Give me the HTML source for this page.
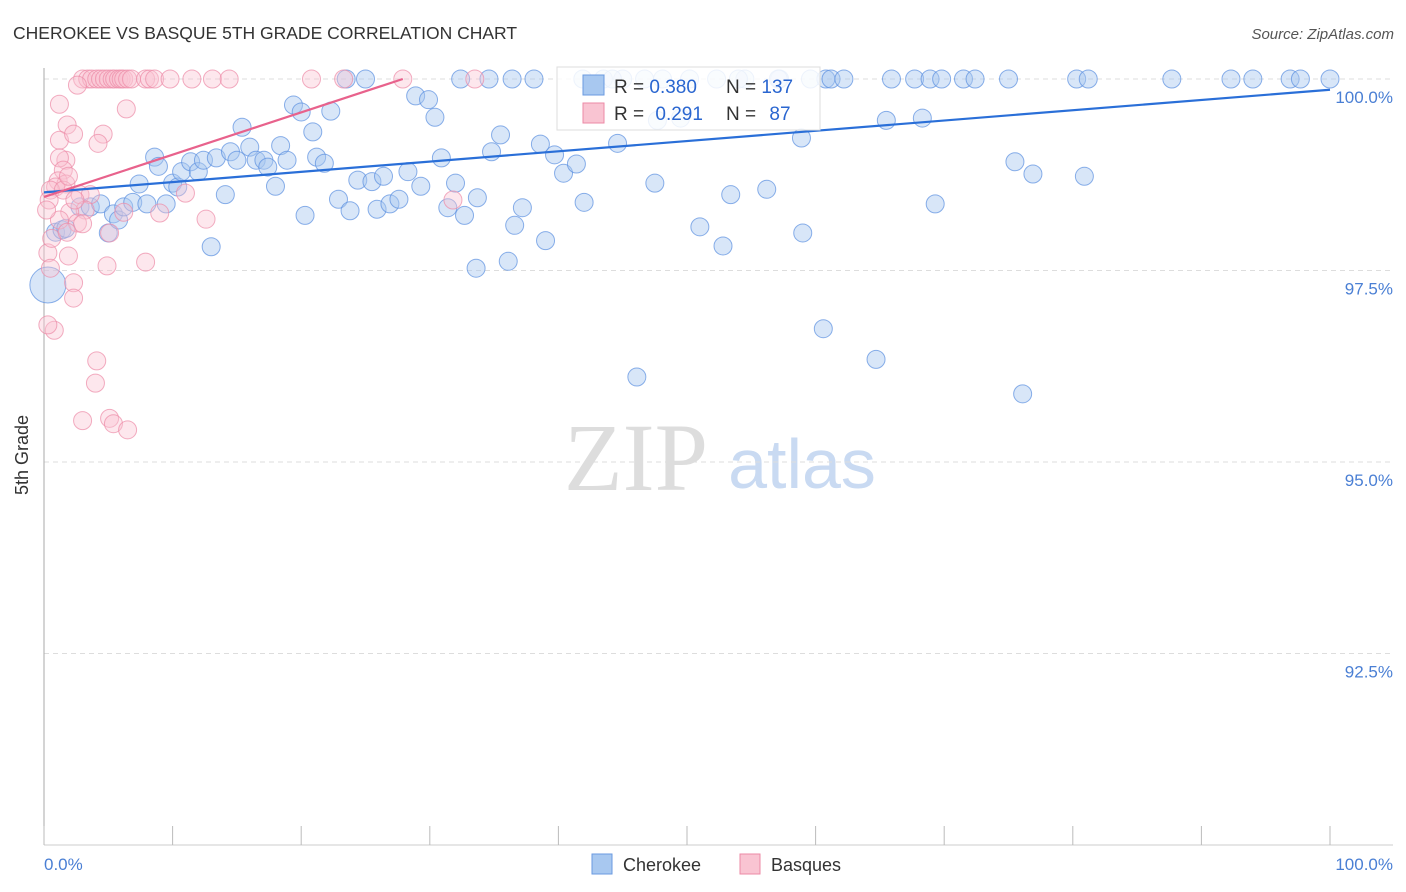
<!DOCTYPE html>
<html><head><meta charset="utf-8">
<style>
body{margin:0;background:#fff;width:1406px;height:892px;overflow:hidden;font-family:"Liberation Sans",sans-serif;}
svg{display:block}
</style></head>
<body>
<svg id="chart" width="1406" height="892">
<text x="13" y="39" font-size="17.5" fill="#333">CHEROKEE VS BASQUE 5TH GRADE CORRELATION CHART</text>
<text x="1394" y="39" font-size="15" fill="#555" font-style="italic" text-anchor="end">Source: ZipAtlas.com</text>
<text x="28" y="455" font-size="18" fill="#333" transform="rotate(-90 28 455)" text-anchor="middle">5th Grade</text>
<g>
<text x="636" y="490" font-size="96" font-family="Liberation Serif,serif" fill="#ddd" text-anchor="middle">ZIP</text>
<text x="802" y="488" font-size="70" fill="#c9daf2" text-anchor="middle">atlas</text>
</g>
<g id="grid"></g><g id="axes"></g><g id="pts"></g><g id="lines"></g>
<g>
<rect x="557" y="67" width="263" height="63" fill="#fff" fill-opacity="0.85" stroke="#ddd"/>
<rect x="583" y="75" width="21" height="20" fill="#a8c8f0" stroke="#6a9ae0"/>
<text x="614" y="93" font-size="19" fill="#333">R = <tspan fill="#2a66d0">0.380</tspan></text>
<text x="726" y="93" font-size="19" fill="#333">N = <tspan fill="#2a66d0">137</tspan></text>
<rect x="583" y="103" width="21" height="20" fill="#f9c4d2" stroke="#ec8aa6"/>
<text x="614" y="120" font-size="19" fill="#333">R = <tspan fill="#2a66d0" dx="6">0.291</tspan></text>
<text x="726" y="120" font-size="19" fill="#333">N = <tspan fill="#2a66d0" dx="8">87</tspan></text>
</g>
<g>
<rect x="592" y="854" width="20" height="20" fill="#a8c8f0" stroke="#6a9ae0"/>
<text x="623" y="871" font-size="18" fill="#333">Cherokee</text>
<rect x="740" y="854" width="20" height="20" fill="#f9c4d2" stroke="#ec8aa6"/>
<text x="771" y="871" font-size="18" fill="#333">Basques</text>
</g>
</svg>
<script>
const yTicks=[100,97.5,95,92.5];
const yTickLabels=["100.0%","97.5%","95.0%","92.5%"];
const xTickVals=[0,10,20,30,40,50,60,70,80,90,100];
const xEndLabels=["0.0%","100.0%"];
const blueX=[0.3,0.9,1.4,1.7,2.8,3.6,4.4,5.0,5.4,5.8,6.2,6.9,7.4,8.0,8.6,8.9,9.5,10.0,10.4,10.7,11.4,12.0,12.4,13.0,13.4,14.1,14.5,15.0,15.4,16.0,16.5,17.1,17.4,18.0,18.4,18.9,19.4,20.0,20.3,20.9,21.2,21.8,22.3,22.9,23.5,23.8,24.4,25.0,25.5,25.9,26.4,26.9,27.6,28.3,28.9,29.3,29.9,30.4,30.9,31.4,32.0,32.4,32.7,33.6,33.7,34.6,34.8,35.5,36.1,36.4,36.6,37.2,38.1,38.6,39.0,39.7,40.4,41.4,42.0,43.5,44.6,45.0,46.1,46.7,47.5,47.7,49.5,50.2,51.0,52.8,53.4,54.5,56.2,57.2,58.9,59.0,59.6,60.6,60.8,61.2,62.2,64.7,65.5,65.9,67.7,68.3,68.9,69.3,69.8,71.5,72.4,75.0,75.5,76.1,76.9,80.3,80.9,81.2,87.7,92.3,94.0,96.9,97.7,100,41.9,44.2,48.1,52.3,54.0,57.1];
const blueY=[97.31,98.00,98.03,98.05,98.33,98.33,98.37,97.99,98.24,98.16,98.33,98.39,98.63,98.37,98.98,98.86,98.37,98.64,98.59,98.79,98.92,98.79,98.94,97.81,98.97,98.49,99.05,98.94,99.37,99.11,98.94,98.94,98.85,98.60,99.13,98.94,99.66,99.57,98.22,99.31,98.98,98.90,99.58,98.43,100,98.28,98.68,100,98.66,98.30,98.73,98.37,98.43,98.79,99.78,98.60,99.73,99.50,98.97,98.32,98.64,100,98.22,97.53,98.45,100,99.05,99.27,97.62,100,98.09,98.32,100,99.15,97.89,99.01,98.77,98.89,98.39,100,99.16,100,96.11,100,98.64,99.46,99.49,100,98.07,97.82,98.49,100,98.56,100,99.23,97.99,100,96.74,100,100,100,96.34,99.46,100,100,99.49,100,98.37,100,100,100,100,98.92,95.89,98.76,100,98.73,100,100,100,100,100,100,100,100,100,100,100,100,100];
const blueSize=blueX.map((v,i)=>i===0?2:1);
const pinkX=[3.0,3.4,3.7,4.1,4.4,4.7,5.0,5.3,5.5,5.8,6.0,6.2,6.5,6.8,7.9,8.2,8.6,9.8,11.5,13.1,14.4,20.8,23.3,27.9,33.5,2.6,1.2,1.8,4.6,6.4,4.2,1.2,2.3,1.7,1.2,1.5,1.1,1.7,0.9,0.5,0.4,2.8,3.6,3.2,2.0,2.6,3.0,5.1,1.9,4.9,0.3,0.5,2.3,2.3,0.8,0.3,4.1,4.0,3.0,5.1,5.4,6.5,7.9,12.6,9.0,11.0,31.8,1.2,0.6,0.2,1.8,1.5,1.9,2.4,6.2];
const pinkY=[100,100,100,100,100,100,100,100,100,100,100,100,100,100,100,100,100,100,100,100,100,100,100,100,100,99.92,99.67,99.40,99.28,99.61,99.16,99.20,99.28,98.94,98.97,98.81,98.67,98.63,98.59,98.55,98.42,98.49,98.49,98.29,98.26,98.12,98.11,97.99,97.69,97.56,97.73,97.53,97.34,97.14,96.72,96.79,96.32,96.03,95.54,95.57,95.50,95.42,97.61,98.17,98.25,98.51,98.42,98.16,97.92,98.29,98.00,98.55,98.73,98.42,98.26];
const blueTrend=[0,98.52,100,99.86];
const pinkTrend=[0,98.46,27.9,100];

const NS="http://www.w3.org/2000/svg";
const X0=44,X1=1330,Y100=79,PXPER=76.6;
function sx(v){return X0+(X1-X0)*v/100;}
function sy(v){return Y100+(100-v)*PXPER;}
function mk(tag,attrs,parent){const e=document.createElementNS(NS,tag);for(const k in attrs)e.setAttribute(k,attrs[k]);parent.appendChild(e);return e;}
const grid=document.getElementById('grid'),axes=document.getElementById('axes'),pts=document.getElementById('pts'),lines=document.getElementById('lines');
yTicks.forEach((t,i)=>{
  const l=mk('line',{x1:X0,x2:1393,y1:sy(t),y2:sy(t),stroke:'#ddd','stroke-dasharray':'5,4'},grid);
  
  
  const tx=mk('text',{x:1393,y:sy(t)+24,'font-size':17,fill:'#4a7fd4','text-anchor':'end'},axes);
  tx.textContent=yTickLabels[i];
  
  
});
const ya=mk('line',{x1:X0,x2:X0,y1:68,y2:845,stroke:'#aaa'},axes);


const xa=mk('line',{x1:X0,x2:1393,y1:845,y2:845,stroke:'#ccc'},axes);


xTickVals.forEach(v=>{
  const t=mk('line',{x1:sx(v),x2:sx(v),y1:826,y2:845,stroke:'#bbb'},axes);
  
  
});
const xl0=mk('text',{x:44,y:870,'font-size':17,fill:'#4a7fd4'},axes);xl0.textContent=xEndLabels[0];


const xl1=mk('text',{x:1393,y:870,'font-size':17,fill:'#4a7fd4','text-anchor':'end'},axes);xl1.textContent=xEndLabels[1];


blueX.forEach((x,i)=>{
  const c=mk('circle',{cx:sx(x),cy:sy(blueY[i]),r:9*blueSize[i],fill:'#a8c8f0','fill-opacity':0.45,stroke:'#5a8fe0','stroke-opacity':0.7,'stroke-width':1},pts);
  
  
});
pinkX.forEach((x,i)=>{
  const c=mk('circle',{cx:sx(x),cy:sy(pinkY[i]),r:9,fill:'#f9c4d2','fill-opacity':0.4,stroke:'#ec8aa6','stroke-opacity':0.7,'stroke-width':1},pts);
  
  
});
const bl=mk('line',{x1:sx(blueTrend[0]),y1:sy(blueTrend[1]),x2:sx(blueTrend[2]),y2:sy(blueTrend[3]),stroke:'#2a6fd8','stroke-width':2.2},lines);


const pl=mk('line',{x1:sx(pinkTrend[0]),y1:sy(pinkTrend[1]),x2:sx(pinkTrend[2]),y2:sy(pinkTrend[3]),stroke:'#e8628c','stroke-width':2.2},lines);


</script>
</body></html>
